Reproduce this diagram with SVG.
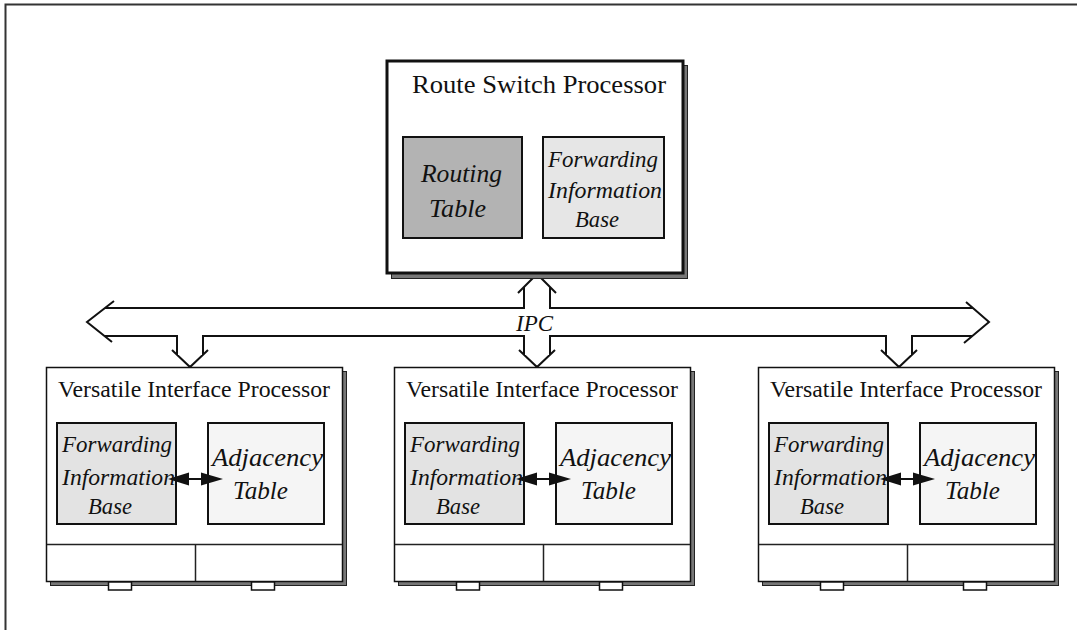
<svg xmlns="http://www.w3.org/2000/svg" width="1077" height="630" viewBox="0 0 1077 630">
  <style>
    .frame { stroke: #333; stroke-width: 2; fill: none; }
    .bus { stroke: #111; stroke-width: 2; fill: none; stroke-linejoin: miter; }
    .shadow { fill: #777; stroke: #222; stroke-width: 1; }
    .box { fill: #fff; stroke: #111; }
    .inner { stroke: #111; stroke-width: 2; }
    .div { stroke: #222; stroke-width: 1.5; fill: none; }
    .tab { fill: #fff; stroke: #111; stroke-width: 1.5; }
    .t { font-family: "Liberation Serif", "Times New Roman", serif; fill: #111; }
    .it { font-family: "Liberation Serif", "Times New Roman", serif; font-style: italic; fill: #111; }
    .dbl { stroke: #111; stroke-width: 2; }
  </style>
  <defs>
    <g id="vip">
      <rect class="shadow" x="50.5" y="371.5" width="296" height="214"/>
      <rect class="box" x="46.5" y="367.5" width="296" height="214" stroke-width="1.5"/>
      <path class="div" d="M47,544.5 H342 M195.5,544.5 V581"/>
      <rect class="tab" x="108.5" y="582" width="23" height="8"/>
      <rect class="tab" x="251.5" y="582" width="23" height="8"/>
      <text class="t" x="58" y="397" font-size="23.5" textLength="272" lengthAdjust="spacingAndGlyphs">Versatile Interface Processor</text>
      <rect class="inner" x="57" y="423" width="119" height="101" fill="#e3e3e3"/>
      <rect class="inner" x="208" y="423" width="116" height="101" fill="#f5f5f5"/>
      <text class="it" x="62" y="452" font-size="23.5" textLength="110" lengthAdjust="spacingAndGlyphs">Forwarding</text>
      <text class="it" x="62" y="485" font-size="23.5" textLength="113" lengthAdjust="spacingAndGlyphs">Information</text>
      <text class="it" x="88" y="514" font-size="23.5" textLength="44" lengthAdjust="spacingAndGlyphs">Base</text>
      <text class="it" x="212" y="466" font-size="25.5" textLength="111" lengthAdjust="spacingAndGlyphs">Adjacency</text>
      <text class="it" x="233" y="499" font-size="25" textLength="55" lengthAdjust="spacingAndGlyphs">Table</text>
      <line class="dbl" x1="188" y1="479" x2="202" y2="479"/>
      <polygon points="168,479 189,472.5 189,485.5" fill="#111"/>
      <polygon points="223,479 201,472.5 201,485.5" fill="#111"/>
    </g>
  </defs>

  <g id="frame">
    <path class="frame" d="M5.5,630 V4.5 H1077"/>
  </g>

  <g id="connectors">
    <path class="bus" d="M114,301 L87,322 L112,342"/>
    <path class="bus" d="M105,308 H524 V287 M518,293 L537,274 L556,293 M550,287 V308 H973"/>
    <path class="bus" d="M966,302 L989,322 L964,343"/>
    <path class="bus" d="M105,336 H177 V355 M172,350 L190,367 L208,350 M203,355 V336 H524 V355 M519,350 L537,367 L555,350 M550,355 V336 H886 V355 M881,350 L899,367 L917,350 M912,355 V336 H972"/>
    <text class="it" x="516" y="331" font-size="23" textLength="37" lengthAdjust="spacingAndGlyphs">IPC</text>
  </g>

  <g id="rsp">
    <rect class="shadow" x="391.5" y="65.5" width="296" height="213"/>
    <rect class="box" x="387" y="61" width="296" height="212" stroke-width="3"/>
    <text class="t" x="412" y="93" font-size="26" textLength="254" lengthAdjust="spacingAndGlyphs">Route Switch Processor</text>
    <rect class="inner" x="403" y="137" width="119" height="101" fill="#b3b3b3"/>
    <text class="it" x="421" y="182" font-size="25" textLength="81" lengthAdjust="spacingAndGlyphs">Routing</text>
    <text class="it" x="429" y="217" font-size="25" textLength="57" lengthAdjust="spacingAndGlyphs">Table</text>
    <rect class="inner" x="543" y="137" width="121" height="101" fill="#e6e6e6"/>
    <text class="it" x="548" y="167" font-size="23.5" textLength="110" lengthAdjust="spacingAndGlyphs">Forwarding</text>
    <text class="it" x="548" y="198" font-size="23.5" textLength="114" lengthAdjust="spacingAndGlyphs">Information</text>
    <text class="it" x="575" y="227" font-size="23.5" textLength="44" lengthAdjust="spacingAndGlyphs">Base</text>
  </g>

  <g id="vip1">
    <use href="#vip"/>
  </g>
  <g id="vip2">
    <use href="#vip" transform="translate(348,0)"/>
  </g>
  <g id="vip3">
    <use href="#vip" transform="translate(712,0)"/>
  </g>
</svg>
